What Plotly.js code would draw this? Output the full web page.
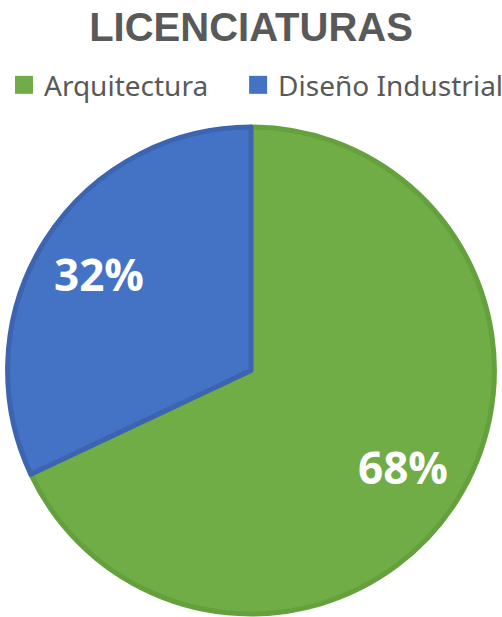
<!DOCTYPE html>
<html>
<head>
<meta charset="utf-8">
<script src="https://cdn.plot.ly/plotly-3.0.1.min.js"></script>
<style>html,body{margin:0;padding:0;background:#fff;}</style>
</head>
<body>
<div id="chart" style="width:502px;height:617px;"></div>
<script>
const categories = ['Arquitectura', 'Diseño Industrial'];
const values = [68, 32];
const colors = ['#70AD47', '#4472C4'];
const borderColors = ['#64A03C', '#3C64B0'];

const W = 502, H = 617;
const domY = [0.005, 0.794];
const total = values.reduce((a, b) => a + b, 0);
const rPx = (domY[1] - domY[0]) * H / 2;
const cy = (domY[0] + domY[1]) / 2;

const annotations = [];
let cum = 0;
values.forEach(function(v){
  const theta = 2 * Math.PI * (cum + v / 2) / total;
  cum += v;
  const d = 0.74 * rPx;
  annotations.push({
    xref: 'paper', yref: 'paper',
    x: 0.5 + d * Math.sin(theta) / W,
    y: cy + d * Math.cos(theta) / H,
    xanchor: 'center', yanchor: 'middle', showarrow: false,
    text: '<b>' + Math.round(100 * v / total) + '%</b>',
    font: {family: 'Open Sans', size: 44, color: '#ffffff'}
  });
});

const data = [{
  type: 'pie',
  labels: categories,
  values: values,
  sort: false,
  direction: 'clockwise',
  rotation: 0,
  marker: {colors: colors, line: {color: borderColors, width: 5}},
  textinfo: 'none',
  hoverinfo: 'none',
  domain: {x: [0, 1], y: domY}
}];

const layout = {
  width: W, height: H,
  margin: {l: 0, r: 0, t: 0, b: 0},
  paper_bgcolor: '#ffffff',
  title: {
    text: '<b>LICENCIATURAS</b>',
    font: {family: 'Liberation Sans', size: 40, color: '#595959'},
    x: 0.5, xanchor: 'center', y: 0.957, yanchor: 'middle'
  },
  showlegend: true,
  legend: {
    orientation: 'h', x: 0.5, xanchor: 'center', y: 0.862, yanchor: 'middle',
    bgcolor: 'rgba(0,0,0,0)',
    font: {family: 'Noto Sans', size: 28, color: '#595959'},
    itemwidth: 30
  },
  annotations: annotations
};

// extra horizontal shift of each legend entry (px), to match the reference spacing
const legendShift = [-7, 18];

Plotly.newPlot('chart', data, layout, {staticPlot: true}).then(function(gd){
  document.querySelectorAll('.legendpoints path').forEach(function(p){
    p.setAttribute('d', 'M9,9H-9V-9H9Z');
    p.style.strokeWidth = '0px';
  });
  document.querySelectorAll('.legend [clip-path]').forEach(function(el){
    el.removeAttribute('clip-path');
  });
  document.querySelectorAll('.legend .traces').forEach(function(g, i){
    const t = g.getAttribute('transform') || 'translate(0,0)';
    const m = /translate\(\s*([-\d.e]+)[ ,]\s*([-\d.e]+)\s*\)/.exec(t);
    const x = m ? parseFloat(m[1]) : 0;
    const y = m ? parseFloat(m[2]) : 0;
    g.setAttribute('transform', 'translate(' + (x + (legendShift[i] || 0)) + ',' + y + ')');
  });
});
</script>
</body>
</html>
